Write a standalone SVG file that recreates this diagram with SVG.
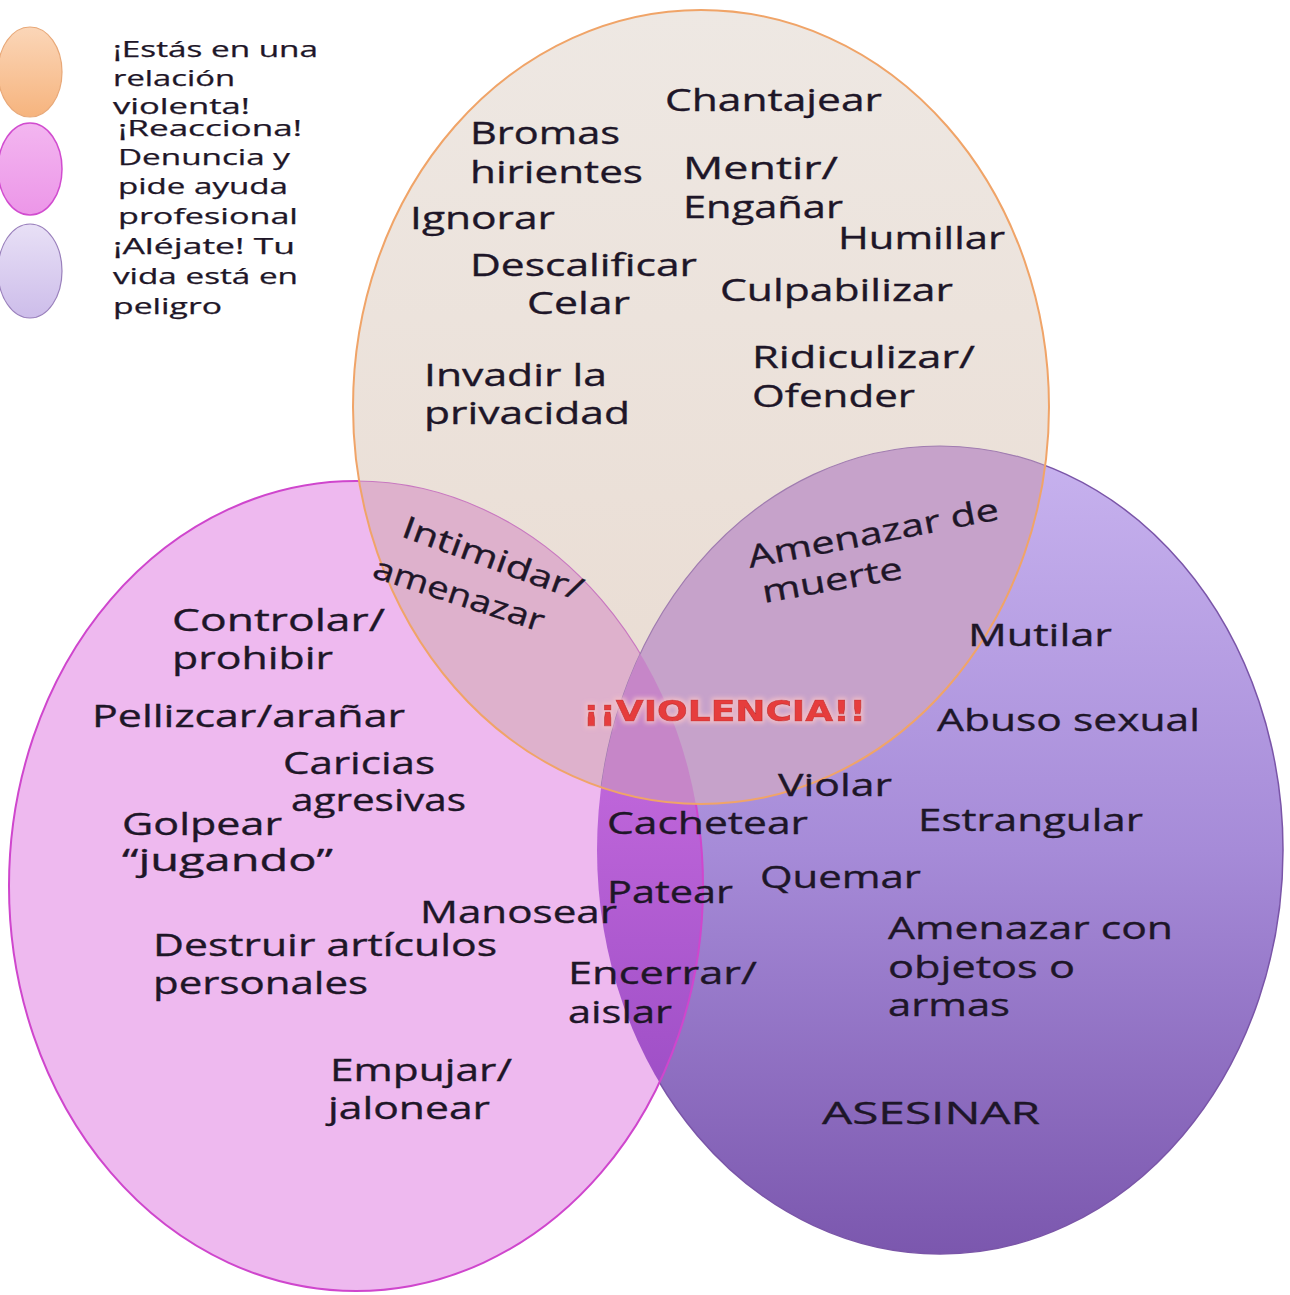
<svg xmlns="http://www.w3.org/2000/svg" width="1290" height="1295" viewBox="0 0 1290 1295">
<style>
.t{font-family:"Open Sans","Liberation Sans",sans-serif;font-size:31px;fill:#1e1628;stroke:#1e1628;stroke-width:0.35}
.lg{font-family:"Open Sans","Liberation Sans",sans-serif;font-size:21px;fill:#1e1628;stroke:#1e1628;stroke-width:0.25}
.vio{font-family:"DejaVu Sans","Liberation Sans",sans-serif;font-weight:bold;font-size:29px;fill:#e63c3c;stroke:#c42a2a;stroke-width:0.6}
</style>
<defs>
<linearGradient id="gPurp" x1="0" y1="0" x2="0" y2="1">
<stop offset="0" stop-color="#c8b3ef"/>
<stop offset="0.5" stop-color="#a68bd8"/>
<stop offset="1" stop-color="#7b57ae"/>
</linearGradient>
<linearGradient id="gTop" x1="0" y1="0" x2="0" y2="1">
<stop offset="0" stop-color="#eee8e3"/>
<stop offset="1" stop-color="#e9dbd1"/>
</linearGradient>
<linearGradient id="gLens" gradientUnits="userSpaceOnUse" x1="0" y1="780" x2="0" y2="1130">
<stop offset="0" stop-color="#bf66da"/>
<stop offset="1" stop-color="#9a4cc4"/>
</linearGradient>
<linearGradient id="gLO" x1="0" y1="0" x2="0" y2="1">
<stop offset="0" stop-color="#fbd6b8"/>
<stop offset="1" stop-color="#f6b47e"/>
</linearGradient>
<linearGradient id="gLP" x1="0" y1="0" x2="0" y2="1">
<stop offset="0" stop-color="#f3b6f0"/>
<stop offset="1" stop-color="#ec96e8"/>
</linearGradient>
<linearGradient id="gLV" x1="0" y1="0" x2="0" y2="1">
<stop offset="0" stop-color="#e8e0f6"/>
<stop offset="1" stop-color="#cdbdea"/>
</linearGradient>
<clipPath id="cTop"><ellipse cx="701" cy="407" rx="348" ry="397"/></clipPath>
<clipPath id="cPink"><ellipse cx="356" cy="886" rx="347" ry="405"/></clipPath>
<filter id="glow" x="-10%" y="-50%" width="120%" height="200%">
<feMorphology in="SourceAlpha" operator="dilate" radius="1.5" result="d"/>
<feGaussianBlur in="d" stdDeviation="2" result="b"/>
<feFlood flood-color="#f4c0c8" flood-opacity="0.9"/>
<feComposite in2="b" operator="in" result="g"/>
<feMerge><feMergeNode in="g"/><feMergeNode in="SourceGraphic"/></feMerge>
</filter>
</defs>
<rect width="1290" height="1295" fill="#ffffff"/>

<g id="legend">
<ellipse cx="30" cy="72" rx="32" ry="45" fill="url(#gLO)" stroke="#e8a878" stroke-width="1.2"/>
<ellipse cx="30" cy="169" rx="32" ry="46" fill="url(#gLP)" stroke="#d14ccf" stroke-width="1.5"/>
<ellipse cx="30" cy="271" rx="32" ry="47" fill="url(#gLV)" stroke="#9a80bc" stroke-width="1.2"/>
<text class="lg" x="113" y="57" textLength="205" lengthAdjust="spacingAndGlyphs">¡Estás en una</text>
<text class="lg" x="113" y="86" textLength="122" lengthAdjust="spacingAndGlyphs">relación</text>
<text class="lg" x="113" y="114" textLength="137" lengthAdjust="spacingAndGlyphs">violenta!</text>
<text class="lg" x="118" y="136" textLength="184" lengthAdjust="spacingAndGlyphs">¡Reacciona!</text>
<text class="lg" x="118" y="165" textLength="172" lengthAdjust="spacingAndGlyphs">Denuncia y</text>
<text class="lg" x="118" y="194" textLength="170" lengthAdjust="spacingAndGlyphs">pide ayuda</text>
<text class="lg" x="118" y="224" textLength="180" lengthAdjust="spacingAndGlyphs">profesional</text>
<text class="lg" x="113" y="254" textLength="182" lengthAdjust="spacingAndGlyphs">¡Aléjate! Tu</text>
<text class="lg" x="113" y="284" textLength="185" lengthAdjust="spacingAndGlyphs">vida está en</text>
<text class="lg" x="113" y="314" textLength="109" lengthAdjust="spacingAndGlyphs">peligro</text>
</g>

<g id="set-right">
<ellipse cx="940" cy="850" rx="343" ry="404" fill="url(#gPurp)" stroke="#7a55a8" stroke-width="1.5"/>
</g>
<g id="set-left">
<ellipse cx="356" cy="886" rx="347" ry="405" fill="#eeb9ef"/>
</g>
<g id="overlap-left-right" clip-path="url(#cPink)">
<ellipse cx="940" cy="850" rx="343" ry="404" fill="url(#gLens)"/>
</g>
<ellipse cx="356" cy="886" rx="347" ry="405" fill="none" stroke="#cf46cd" stroke-width="2"/>
<g id="set-top">
<ellipse cx="701" cy="407" rx="348" ry="397" fill="url(#gTop)"/>
</g>
<g id="overlap-top" clip-path="url(#cTop)">
<ellipse cx="356" cy="886" rx="347" ry="405" fill="#deb1cc" stroke="#c878c0" stroke-width="1.2"/>
<ellipse cx="940" cy="850" rx="343" ry="404" fill="#c6a2ca" stroke="#a07cb0" stroke-width="1.2"/>
<g clip-path="url(#cPink)">
<ellipse cx="940" cy="850" rx="343" ry="404" fill="#c686c8"/>
</g>
</g>
<ellipse cx="701" cy="407" rx="348" ry="397" fill="none" stroke="#f0a468" stroke-width="2"/>

<g id="labels-top">
<text class="t" x="665" y="111" textLength="217" lengthAdjust="spacingAndGlyphs">Chantajear</text>
<text class="t" x="470" y="144" textLength="150" lengthAdjust="spacingAndGlyphs">Bromas</text>
<text class="t" x="470" y="183" textLength="173" lengthAdjust="spacingAndGlyphs">hirientes</text>
<text class="t" x="683" y="179" textLength="155" lengthAdjust="spacingAndGlyphs">Mentir/</text>
<text class="t" x="683" y="218" textLength="160" lengthAdjust="spacingAndGlyphs">Engañar</text>
<text class="t" x="410" y="229" textLength="145" lengthAdjust="spacingAndGlyphs">Ignorar</text>
<text class="t" x="838" y="249" textLength="167" lengthAdjust="spacingAndGlyphs">Humillar</text>
<text class="t" x="470" y="276" textLength="227" lengthAdjust="spacingAndGlyphs">Descalificar</text>
<text class="t" x="527" y="314" textLength="103" lengthAdjust="spacingAndGlyphs">Celar</text>
<text class="t" x="720" y="301" textLength="233" lengthAdjust="spacingAndGlyphs">Culpabilizar</text>
<text class="t" x="752" y="368" textLength="223" lengthAdjust="spacingAndGlyphs">Ridiculizar/</text>
<text class="t" x="752" y="407" textLength="163" lengthAdjust="spacingAndGlyphs">Ofender</text>
<text class="t" x="424" y="386" textLength="183" lengthAdjust="spacingAndGlyphs">Invadir la</text>
<text class="t" x="424" y="424" textLength="206" lengthAdjust="spacingAndGlyphs">privacidad</text>
<text class="t" transform="translate(400,536) rotate(20)" textLength="190" lengthAdjust="spacingAndGlyphs">Intimidar/</text>
<text class="t" transform="translate(371,577) rotate(18)" textLength="178" lengthAdjust="spacingAndGlyphs">amenazar</text>
<text class="t" transform="translate(750,568) rotate(-11)" textLength="255" lengthAdjust="spacingAndGlyphs">Amenazar de</text>
<text class="t" transform="translate(764,603) rotate(-10)" textLength="142" lengthAdjust="spacingAndGlyphs">muerte</text>
</g>

<g id="labels-left">
<text class="t" x="172" y="631" textLength="213" lengthAdjust="spacingAndGlyphs">Controlar/</text>
<text class="t" x="172" y="669" textLength="161" lengthAdjust="spacingAndGlyphs">prohibir</text>
<text class="t" x="92" y="727" textLength="313" lengthAdjust="spacingAndGlyphs">Pellizcar/arañar</text>
<text class="t" x="283" y="774" textLength="152" lengthAdjust="spacingAndGlyphs">Caricias</text>
<text class="t" x="291" y="811" textLength="175" lengthAdjust="spacingAndGlyphs">agresivas</text>
<text class="t" x="122" y="835" textLength="160" lengthAdjust="spacingAndGlyphs">Golpear</text>
<text class="t" x="122" y="871" textLength="211" lengthAdjust="spacingAndGlyphs">“jugando”</text>
<text class="t" x="420" y="923" textLength="197" lengthAdjust="spacingAndGlyphs">Manosear</text>
<text class="t" x="153" y="956" textLength="344" lengthAdjust="spacingAndGlyphs">Destruir artículos</text>
<text class="t" x="153" y="994" textLength="215" lengthAdjust="spacingAndGlyphs">personales</text>
<text class="t" x="330" y="1081" textLength="182" lengthAdjust="spacingAndGlyphs">Empujar/</text>
<text class="t" x="328" y="1119" textLength="162" lengthAdjust="spacingAndGlyphs">jalonear</text>
</g>

<g id="labels-center">
<text class="t" x="607" y="834" textLength="201" lengthAdjust="spacingAndGlyphs">Cachetear</text>
<text class="t" x="607" y="903" textLength="126" lengthAdjust="spacingAndGlyphs">Patear</text>
<text class="t" x="568" y="984" textLength="189" lengthAdjust="spacingAndGlyphs">Encerrar/</text>
<text class="t" x="568" y="1023" textLength="104" lengthAdjust="spacingAndGlyphs">aislar</text>
<text class="vio" x="583" y="721" textLength="283" lengthAdjust="spacingAndGlyphs" filter="url(#glow)">¡¡VIOLENCIA!!</text>
</g>

<g id="labels-right">
<text class="t" x="968" y="646" textLength="144" lengthAdjust="spacingAndGlyphs">Mutilar</text>
<text class="t" x="937" y="731" textLength="263" lengthAdjust="spacingAndGlyphs">Abuso sexual</text>
<text class="t" x="778" y="796" textLength="114" lengthAdjust="spacingAndGlyphs">Violar</text>
<text class="t" x="918" y="831" textLength="225" lengthAdjust="spacingAndGlyphs">Estrangular</text>
<text class="t" x="760" y="888" textLength="161" lengthAdjust="spacingAndGlyphs">Quemar</text>
<text class="t" x="888" y="939" textLength="285" lengthAdjust="spacingAndGlyphs">Amenazar con</text>
<text class="t" x="888" y="978" textLength="187" lengthAdjust="spacingAndGlyphs">objetos o</text>
<text class="t" x="888" y="1016" textLength="122" lengthAdjust="spacingAndGlyphs">armas</text>
<text class="t" x="822" y="1124" textLength="218" lengthAdjust="spacingAndGlyphs">ASESINAR</text>
</g>
</svg>
